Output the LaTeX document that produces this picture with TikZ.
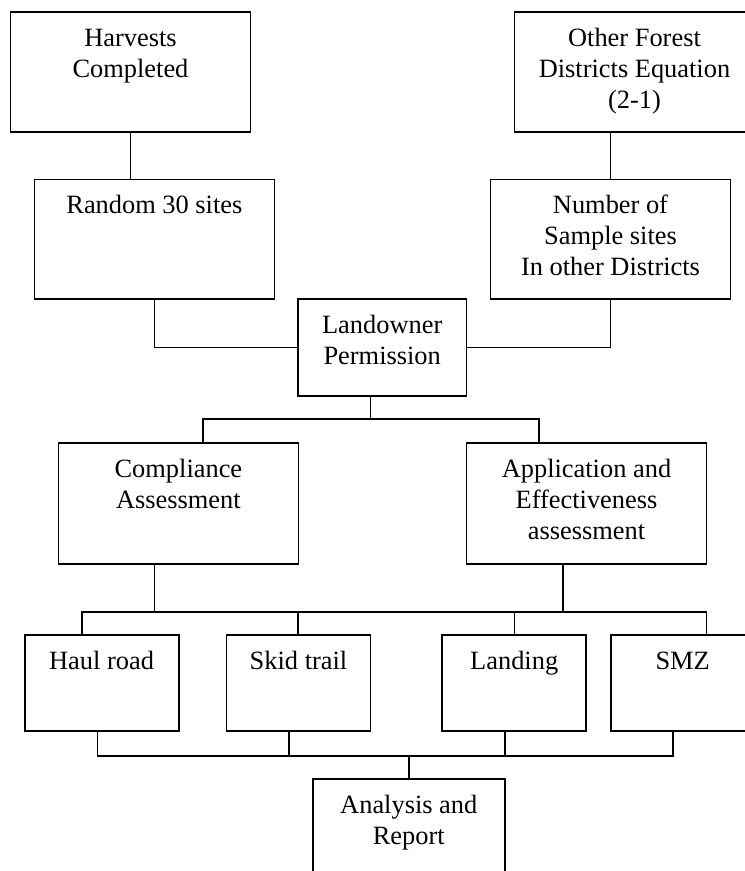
\documentclass[tikz,border=0pt]{standalone}
\usepackage{fontspec}
\setmainfont{Liberation Serif}
\newcommand{\boxfont}{\fontsize{26.4pt}{31pt}\selectfont}
\newcommand{\topstrut}{\rule{0pt}{22pt}}
\tikzset{
  box/.style={draw, line width=1.8pt, rectangle, inner sep=0pt},
  lbl/.style={font=\boxfont, align=center, inner sep=0pt, anchor=north},
  wire/.style={line width=1.8pt}
}
\begin{document}
\begin{tikzpicture}[x=1pt, y=-1pt]
\useasboundingbox (0,0) rectangle (745,871);
\clip (0,0) rectangle (745,871);
% boxes
\node[box, minimum width=240pt, minimum height=120pt] (harv) at (130.5,71.7) {};
\node[box, minimum width=240pt, minimum height=120pt] (other) at (634.5,71.7) {};
\node[box, minimum width=240pt, minimum height=119.8pt] (rand) at (154.4,239.4) {};
\node[box, minimum width=240pt, minimum height=119.8pt] (numb) at (610.5,239.4) {};
\node[box, minimum width=168.5pt, minimum height=96.4pt] (owner) at (382.2,347.5) {};
\node[box, minimum width=240pt, minimum height=120.7pt] (comp) at (178.4,503.7) {};
\node[box, minimum width=240pt, minimum height=120.7pt] (appl) at (586.5,503.7) {};
\node[box, minimum width=154pt, minimum height=96pt] (haul) at (101.6,683) {};
\node[box, minimum width=144pt, minimum height=96pt] (skid) at (298.5,683) {};
\node[box, minimum width=144pt, minimum height=96pt] (landing) at (514.2,683) {};
\node[box, minimum width=144pt, minimum height=96pt] (smz) at (682.7,683) {};
\node[box, minimum width=192.3pt, minimum height=120pt] (anal) at (408.8,839) {};
% labels
\node[lbl] (harvT) at ([yshift=-13pt]harv.north) {\topstrut Harvests\\Completed};
\node[lbl] (otherT) at ([yshift=-13pt]other.north) {\topstrut Other Forest\\Districts Equation\\(2-1)};
\node[lbl] (randT) at ([yshift=-13pt]rand.north) {\topstrut Random 30 sites};
\node[lbl] (numbT) at ([yshift=-13pt]numb.north) {\topstrut Number of\\Sample sites\\In other Districts};
\node[lbl] (ownerT) at ([yshift=-13pt]owner.north) {\topstrut Landowner\\Permission};
\node[lbl] (compT) at ([yshift=-13pt]comp.north) {\topstrut Compliance\\Assessment};
\node[lbl] (applT) at ([yshift=-13pt]appl.north) {\topstrut Application and\\Effectiveness\\assessment};
\node[lbl] (haulT) at ([yshift=-13pt]haul.north) {\topstrut Haul road};
\node[lbl] (skidT) at ([yshift=-13pt]skid.north) {\topstrut Skid trail};
\node[lbl] (landingT) at ([yshift=-13pt]landing.north) {\topstrut Landing};
\node[lbl] (smzT) at ([yshift=-13pt]smz.north) {\topstrut SMZ};
\node[lbl] (analT) at ([yshift=-13pt]anal.north) {\topstrut Analysis and\\Report};
% junction coordinates
\coordinate (busA) at (370.5,419.3);
\coordinate (busAL) at (202.8,419.3);
\coordinate (busAR) at (538.7,419.3);
\coordinate (cdrop) at (154.4,611.7);
\coordinate (adrop) at (563,611.7);
\coordinate (b1) at (82.2,611.7);
\coordinate (b2) at (298.3,611.7);
\coordinate (b3) at (514.5,611.7);
\coordinate (b4) at (706.4,611.7);
\coordinate (c1) at (97.4,755.7);
\coordinate (c2) at (288.8,755.7);
\coordinate (c3) at (505,755.7);
\coordinate (c4) at (672.7,755.7);
\coordinate (cm) at (408.6,755.7);
% connectors
\draw[wire] (harv.south) -- (harv.south |- rand.north);
\draw[wire] (numb.north) -- (numb.north |- other.south);
\draw[wire] (rand.south) -- (rand.south |- owner.west) -- (owner.west);
\draw[wire] (numb.south) -- (numb.south |- owner.east) -- (owner.east);
\draw[wire] (owner.south -| busA) -- (busA);
\draw[wire] (busAL |- comp.north) -- (busAL) -- (busAR) -- (busAR |- appl.north);
\draw[wire] (comp.south -| cdrop) -- (cdrop);
\draw[wire] (appl.south -| adrop) -- (adrop);
\draw[wire] (b1 |- haul.north) -- (b1) -- (b4) -- (b4 |- smz.north);
\draw[wire] (b2) -- (b2 |- skid.north);
\draw[wire] (b3) -- (b3 |- landing.north);
\draw[wire] (c1 |- haul.south) -- (c1) -- (c4) -- (c4 |- smz.south);
\draw[wire] (c2 |- skid.south) -- (c2);
\draw[wire] (c3 |- landing.south) -- (c3);
\draw[wire] (cm) -- (cm |- anal.north);
\end{tikzpicture}
\end{document}
